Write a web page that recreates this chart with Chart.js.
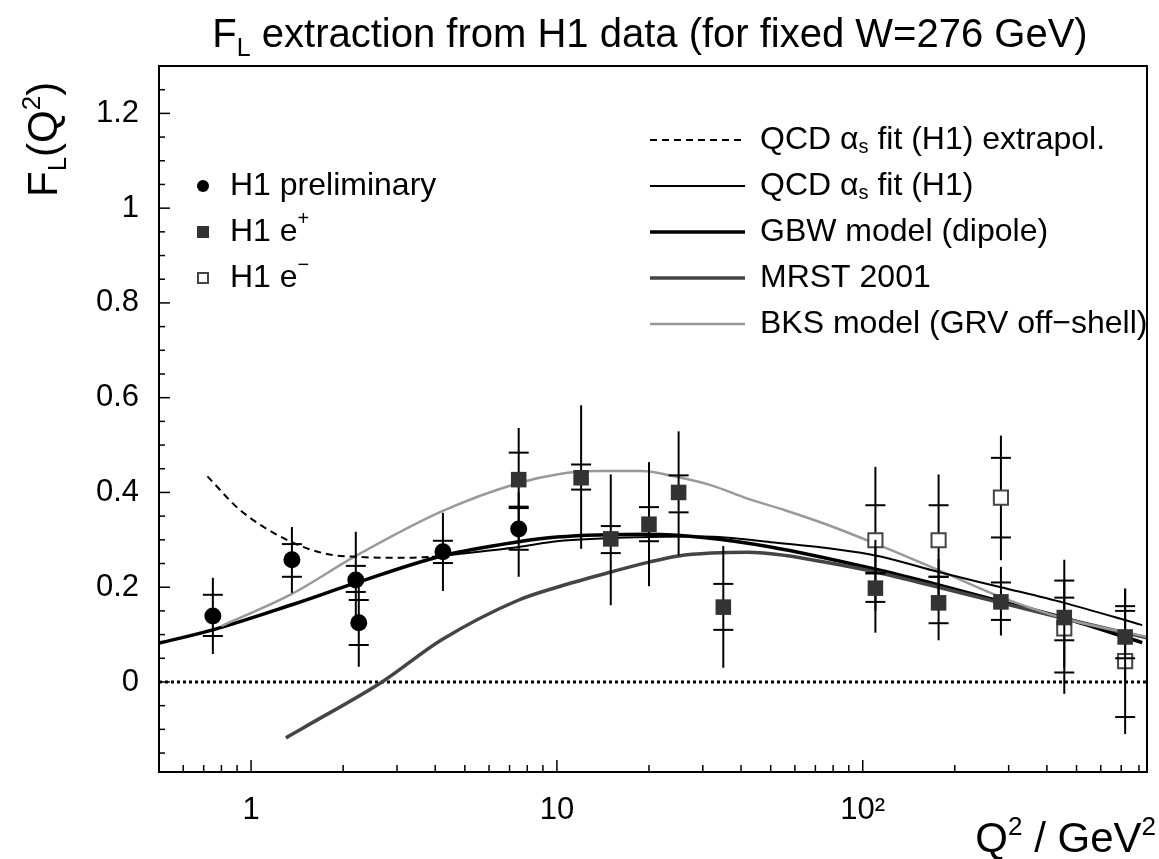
<!DOCTYPE html>
<html>
<head>
<meta charset="utf-8">
<title>FL extraction from H1 data</title>
<script src="https://cdn.jsdelivr.net/npm/chart.js@4.4.1/dist/chart.umd.min.js"></script>
<style>
  html, body { margin: 0; padding: 0; background: #fff; }
  #wrap { width: 1159px; height: 859px; }
</style>
</head>
<body>
<div id="wrap"><canvas id="chartFL" width="1159" height="859"></canvas></div>
<script>
const FONT = '"Liberation Sans", Arial, Helvetica, sans-serif';

// H1 preliminary (filled circles)
const prelimQ2 = [0.75, 1.36, 2.2, 2.25, 4.24, 7.5];
const prelimFL = [0.139, 0.258, 0.215, 0.125, 0.275, 0.323];
const prelimStatLo = [0.097, 0.222, 0.190, 0.078, 0.251, 0.279];
const prelimStatHi = [0.184, 0.291, 0.245, 0.173, 0.298, 0.367];
const prelimTotLo = [0.059, 0.188, 0.140, 0.032, 0.192, 0.222];
const prelimTotHi = [0.220, 0.327, 0.317, 0.200, 0.357, 0.400];

// H1 e+ (filled squares)
const ePlusQ2 = [7.5, 12, 15, 20, 25, 35, 110, 177, 283, 456, 721];
const ePlusFL = [0.427, 0.431, 0.302, 0.333, 0.400, 0.158, 0.198, 0.167, 0.169, 0.136, 0.095];
const ePlusStatLo = [0.370, 0.406, 0.272, 0.297, 0.358, 0.110, 0.169, 0.124, 0.131, 0.088, 0.050];
const ePlusStatHi = [0.484, 0.459, 0.329, 0.369, 0.436, 0.207, 0.229, 0.222, 0.210, 0.178, 0.150];
const ePlusTotLo = [0.300, 0.281, 0.162, 0.202, 0.267, 0.030, 0.104, 0.088, 0.098, 0.030, 0.000];
const ePlusTotHi = [0.536, 0.584, 0.438, 0.464, 0.529, 0.287, 0.300, 0.260, 0.243, 0.214, 0.197];

// H1 e- (open squares)
const eMinusQ2 = [110, 177, 283, 456, 721];
const eMinusFL = [0.299, 0.299, 0.389, 0.113, 0.044];
const eMinusStatLo = [0.230, 0.222, 0.305, 0.020, -0.074];
const eMinusStatHi = [0.373, 0.373, 0.473, 0.214, 0.160];
const eMinusTotLo = [0.150, 0.150, 0.257, -0.025, -0.110];
const eMinusTotHi = [0.454, 0.438, 0.520, 0.258, 0.197];

// model curves
const extrapQ2 = [0.72, 0.92, 1.31, 1.77, 2.22, 3.23, 3.9];
const extrapFL = [0.434, 0.363, 0.300, 0.270, 0.264, 0.262, 0.264];

const qcdQ2 = [3.9, 7.5, 10, 20, 30, 50, 110, 177, 283, 456, 820];
const qcdFL = [0.264, 0.285, 0.297, 0.306, 0.307, 0.295, 0.267, 0.232, 0.200, 0.167, 0.120];

const gbwQ2 = [0.5, 0.75, 1.36, 2.2, 4.2, 7.5, 10, 20, 30, 50, 110, 177, 283, 456, 820];
const gbwFL = [0.082, 0.110, 0.163, 0.209, 0.266, 0.296, 0.306, 0.312, 0.305, 0.285, 0.238, 0.205, 0.170, 0.135, 0.083];

const mrstQ2 = [1.3, 1.48, 2.68, 4.2, 7.5, 10, 15, 20, 25, 32, 42, 56, 75, 110, 177, 283, 456, 850];
const mrstFL = [-0.118, -0.097, 0, 0.089, 0.173, 0.200, 0.232, 0.253, 0.266, 0.272, 0.274, 0.267, 0.253, 0.232, 0.200, 0.167, 0.134, 0.093];

const bksQ2 = [0.8, 1.36, 2.2, 4.2, 7.5, 10, 13.4, 18.8, 25, 32, 42, 56, 75, 110, 177, 283, 456, 850];
const bksFL = [0.118, 0.186, 0.266, 0.360, 0.420, 0.438, 0.445, 0.445, 0.432, 0.415, 0.387, 0.362, 0.334, 0.292, 0.236, 0.179, 0.134, 0.095];

const zeroQ2 = [0.5, 850];
const zeroFL = [0, 0];

// axes
const xTickVals = [1, 10, 100];
const xTickText = ['1', '10', '10²'];
const yTickVals = [0, 0.2, 0.4, 0.6, 0.8, 1, 1.2];
const yTickText = ['0', '0.2', '0.4', '0.6', '0.8', '1', '1.2'];

const pts = (xs, ys) => xs.map((x, i) => ({ x, y: ys[i] }));

const errorSets = [
  { lo: prelimTotLo, hi: prelimTotHi, slo: prelimStatLo, shi: prelimStatHi },
  { lo: ePlusTotLo, hi: ePlusTotHi, slo: ePlusStatLo, shi: ePlusStatHi },
  { lo: eMinusTotLo, hi: eMinusTotHi, slo: eMinusStatLo, shi: eMinusStatHi },
];

// rich text: parts are [text, 'sub' | 'sup' | undefined]
const drawRich = (ctx, parts, x, y, size, align) => {
  const fontFor = (k) => `${k ? Math.round(size * 0.62) : size}px ${FONT}`;
  const widths = parts.map(([t, k]) => { ctx.font = fontFor(k); return ctx.measureText(t).width; });
  const total = widths.reduce((a, b) => a + b, 0);
  let cx = align === 'center' ? x - total / 2 : align === 'right' ? x - total : x;
  ctx.textAlign = 'left';
  parts.forEach(([t, k], i) => {
    ctx.font = fontFor(k);
    const dy = k === 'sub' ? size * 0.22 : k === 'sup' ? -size * 0.4 : 0;
    ctx.fillText(t, cx, y + dy);
    cx += widths[i];
  });
};

const errorBars = {
  id: 'errorBars',
  beforeDatasetDraw(chart, args) {
    const e = errorSets[args.index];
    if (!e) return;
    const { ctx, scales: { x, y } } = chart;
    const ds = chart.data.datasets[args.index];
    ctx.save();
    ctx.strokeStyle = '#000';
    ctx.lineWidth = 2;
    ds.data.forEach((p, i) => {
      const px = x.getPixelForValue(p.x);
      ctx.beginPath();
      ctx.moveTo(px, y.getPixelForValue(e.lo[i]));
      ctx.lineTo(px, y.getPixelForValue(e.hi[i]));
      ctx.stroke();
      [e.slo[i], e.shi[i]].forEach((v) => {
        const py = y.getPixelForValue(v);
        ctx.beginPath();
        ctx.moveTo(px - 10, py);
        ctx.lineTo(px + 10, py);
        ctx.stroke();
      });
    });
    ctx.restore();
  },
};

const frameAndText = {
  id: 'frameAndText',
  afterDraw(chart) {
    const { ctx, chartArea: a, scales: { x, y } } = chart;
    ctx.save();
    ctx.strokeStyle = '#000';
    ctx.lineWidth = 2;
    ctx.strokeRect(a.left, a.top, a.right - a.left, a.bottom - a.top);

    // inward ticks
    ctx.lineWidth = 1.5;
    const xMinor = [];
    [0.1, 1, 10, 100].forEach((d) => { for (let m = 1; m <= 9; m++) xMinor.push(m * d); });
    xMinor.filter((v) => v >= x.min && v <= x.max).forEach((v) => {
      const px = x.getPixelForValue(v);
      const len = xTickVals.includes(v) ? 12 : 7;
      ctx.beginPath(); ctx.moveTo(px, a.bottom); ctx.lineTo(px, a.bottom - len); ctx.stroke();
    });
    for (let k = -3; k <= 26; k++) {
      const v = k * 0.05;
      if (v < y.min || v > y.max) continue;
      const py = y.getPixelForValue(v);
      const len = k % 4 === 0 ? 11 : 6;
      ctx.beginPath(); ctx.moveTo(a.left, py); ctx.lineTo(a.left + len, py); ctx.stroke();
    }

    ctx.fillStyle = '#000';
    ctx.textBaseline = 'alphabetic';
    // title
    drawRich(ctx, [['F'], ['L', 'sub'], [' extraction from H1 data (for fixed W=276 GeV)']], 650, 47, 40, 'center');
    // x title
    drawRich(ctx, [['Q'], ['2', 'sup'], [' / '], ['GeV'], ['2', 'sup']], 1156, 852, 42, 'right');
    // y title, rotated
    ctx.save();
    ctx.translate(57, 197);
    ctx.rotate(-Math.PI / 2);
    drawRich(ctx, [['F'], ['L', 'sub'], ['(Q'], ['2', 'sup'], [')']], 0, 0, 42, 'left');
    ctx.restore();

    // left legend: markers
    ctx.textBaseline = 'middle';
    const leftRows = [186, 232, 278];
    ctx.fillStyle = '#000';
    ctx.beginPath(); ctx.arc(203, leftRows[0], 6, 0, Math.PI * 2); ctx.fill();
    ctx.fillStyle = '#333';
    ctx.fillRect(197, leftRows[1] - 6, 12, 12);
    ctx.strokeStyle = '#444';
    ctx.lineWidth = 2;
    ctx.strokeRect(198, leftRows[2] - 5, 10, 10);
    ctx.fillStyle = '#000';
    drawRich(ctx, [['H1 preliminary']], 230, leftRows[0], 32, 'left');
    drawRich(ctx, [['H1 e'], ['+', 'sup']], 230, leftRows[1], 32, 'left');
    drawRich(ctx, [['H1 e'], ['−', 'sup']], 230, leftRows[2], 32, 'left');

    // right legend
    const rightRows = [140, 186, 232, 278, 324];
    const styles = [
      { c: '#000', w: 2, dash: [7, 5] },
      { c: '#000', w: 2, dash: [] },
      { c: '#000', w: 3.5, dash: [] },
      { c: '#444', w: 3.5, dash: [] },
      { c: '#999', w: 2.5, dash: [] },
    ];
    const labels = [
      [['QCD α'], ['s', 'sub'], [' fit (H1) extrapol.']],
      [['QCD α'], ['s', 'sub'], [' fit (H1)']],
      [['GBW model (dipole)']],
      [['MRST 2001']],
      [['BKS model (GRV off−shell)']],
    ];
    rightRows.forEach((ry, i) => {
      ctx.strokeStyle = styles[i].c;
      ctx.lineWidth = styles[i].w;
      ctx.setLineDash(styles[i].dash);
      ctx.beginPath(); ctx.moveTo(650, ry); ctx.lineTo(745, ry); ctx.stroke();
      ctx.setLineDash([]);
      ctx.fillStyle = '#000';
      drawRich(ctx, labels[i], 760, ry, 32, 'left');
    });
    ctx.restore();
  },
};

const lineDs = (label, xs, ys, color, width, dash) => ({
  type: 'line',
  label,
  data: pts(xs, ys),
  borderColor: color,
  borderWidth: width,
  borderDash: dash || [],
  pointRadius: 0,
  fill: false,
  cubicInterpolationMode: 'monotone',
});

const config = {
  type: 'scatter',
  data: {
    datasets: [
      {
        label: 'H1 preliminary',
        data: pts(prelimQ2, prelimFL),
        pointStyle: 'circle',
        pointRadius: 8.5,
        backgroundColor: '#000',
        borderColor: '#000',
        borderWidth: 0,
      },
      {
        label: 'H1 e+',
        data: pts(ePlusQ2, ePlusFL),
        pointStyle: 'rect',
        pointRadius: 11,
        backgroundColor: '#333',
        borderColor: '#333',
        borderWidth: 0,
      },
      {
        label: 'H1 e-',
        data: pts(eMinusQ2, eMinusFL),
        pointStyle: 'rect',
        pointRadius: 10,
        backgroundColor: '#fff',
        borderColor: '#444',
        borderWidth: 2,
      },
      lineDs('QCD fit extrapol.', extrapQ2, extrapFL, '#000', 2, [7, 5]),
      lineDs('QCD fit', qcdQ2, qcdFL, '#000', 2),
      lineDs('BKS model', bksQ2, bksFL, '#999', 2.5),
      lineDs('MRST 2001', mrstQ2, mrstFL, '#444', 3.5),
      lineDs('GBW model', gbwQ2, gbwFL, '#000', 3.5),
      lineDs('zero', zeroQ2, zeroFL, '#000', 3, [3, 3]),
    ],
  },
  options: {
    responsive: false,
    animation: false,
    devicePixelRatio: 1,
    events: [],
    layout: { padding: { top: 66, right: 9, left: 0, bottom: 0 } },
    plugins: {
      legend: { display: false },
      title: { display: false },
      tooltip: { enabled: false },
    },
    scales: {
      x: {
        type: 'logarithmic',
        min: 0.5,
        max: 850,
        grid: { display: false, drawTicks: false },
        border: { display: false },
        afterBuildTicks: (scale) => { scale.ticks = xTickVals.map((v) => ({ value: v })); },
        afterFit: (scale) => { scale.height = 87; },
        ticks: {
          autoSkip: false,
          maxRotation: 0,
          padding: 20,
          color: '#000',
          font: { family: FONT, size: 31 },
          callback: (v) => xTickText[xTickVals.indexOf(v)] || '',
        },
      },
      y: {
        type: 'linear',
        min: -0.19,
        max: 1.3,
        grid: { display: false, drawTicks: false },
        border: { display: false },
        afterBuildTicks: (scale) => { scale.ticks = yTickVals.map((v) => ({ value: v })); },
        afterFit: (scale) => { scale.width = 159; },
        ticks: {
          padding: 20,
          color: '#000',
          font: { family: FONT, size: 31 },
          callback: (v) => yTickText[yTickVals.indexOf(v)] || '',
        },
      },
    },
  },
  plugins: [errorBars, frameAndText],
};

new Chart(document.querySelector('#chartFL'), config);
</script>
</body>
</html>
